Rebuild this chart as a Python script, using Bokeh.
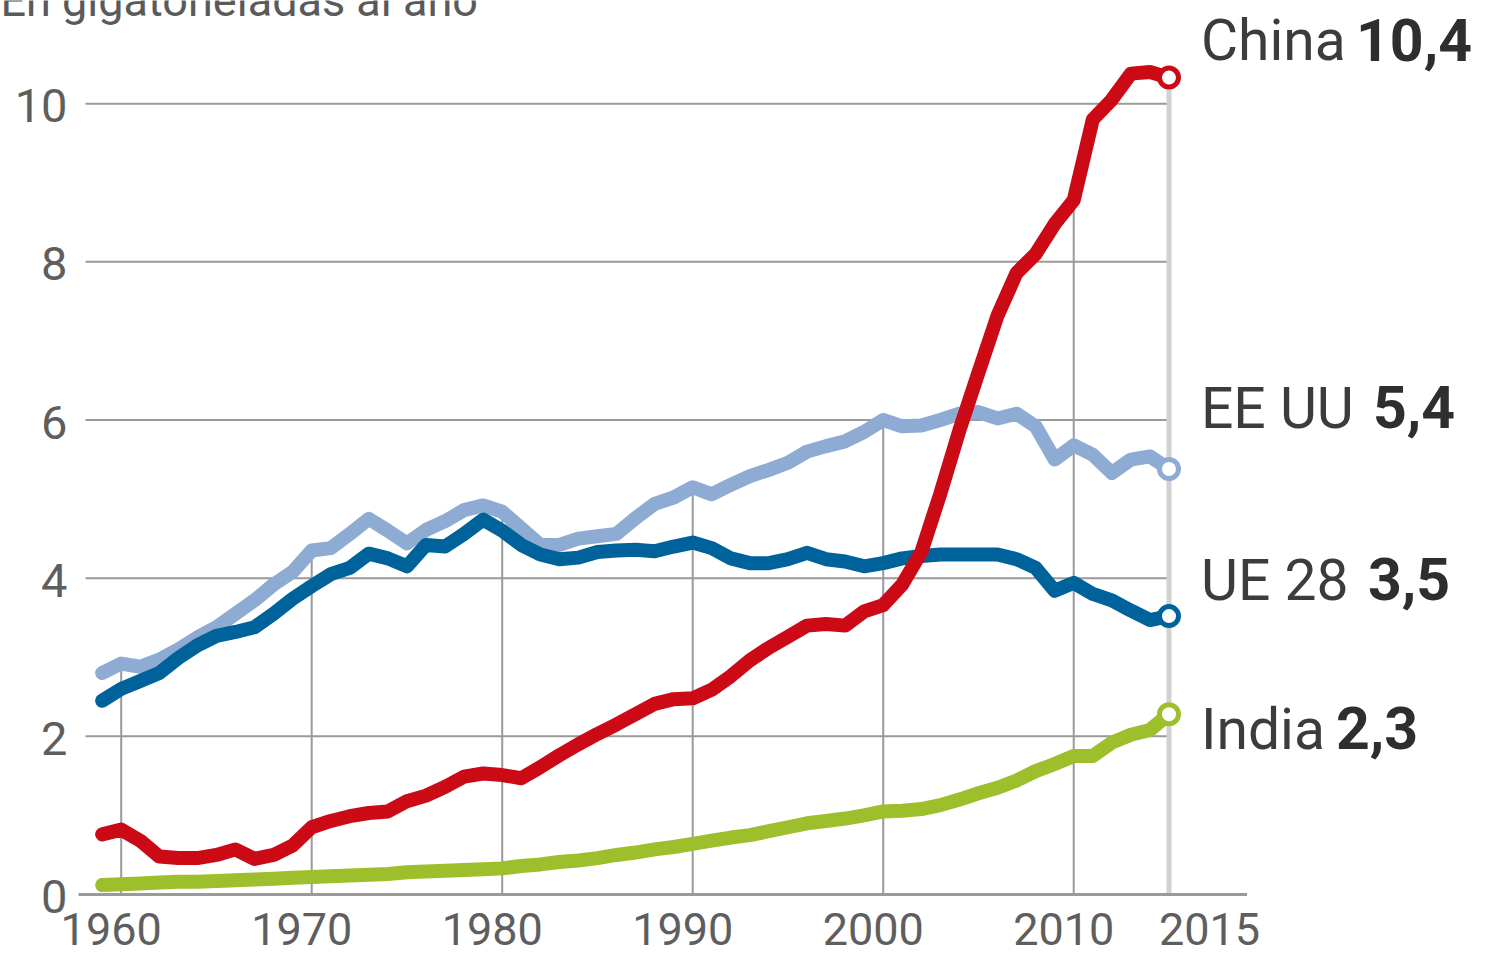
from bokeh.plotting import figure
from bokeh.models import ColumnDataSource
from bokeh.core.properties import value
from bokeh.embed import file_html
from bokeh.resources import INLINE

# ---------------- data ----------------
years = list(range(1959, 2016))

usa = [2.80, 2.92, 2.88, 2.97, 3.10, 3.25, 3.38, 3.55, 3.72, 3.92,
       4.08, 4.35, 4.38, 4.56, 4.75, 4.60, 4.44, 4.61, 4.72, 4.86,
       4.92, 4.84, 4.63, 4.42, 4.42, 4.50, 4.53, 4.56, 4.76, 4.94,
       5.02, 5.15, 5.06, 5.18, 5.29, 5.37, 5.46, 5.60, 5.67, 5.73,
       5.85, 6.00, 5.92, 5.93, 6.00, 6.08, 6.10, 6.02, 6.08, 5.92,
       5.50, 5.68, 5.56, 5.33, 5.50, 5.54, 5.38]

eu = [2.45, 2.60, 2.70, 2.80, 2.99, 3.15, 3.27, 3.32, 3.38, 3.55,
      3.74, 3.90, 4.05, 4.13, 4.31, 4.25, 4.15, 4.42, 4.40, 4.56,
      4.74, 4.60, 4.42, 4.30, 4.24, 4.26, 4.33, 4.35, 4.36, 4.34,
      4.40, 4.45, 4.38, 4.25, 4.19, 4.19, 4.24, 4.32, 4.24, 4.21,
      4.15, 4.19, 4.25, 4.28, 4.30, 4.30, 4.30, 4.30, 4.24, 4.13,
      3.84, 3.94, 3.80, 3.72, 3.59, 3.47, 3.52]

china = [0.76, 0.82, 0.68, 0.48, 0.46, 0.46, 0.50, 0.57, 0.45, 0.50,
         0.62, 0.85, 0.93, 0.99, 1.03, 1.05, 1.18, 1.25, 1.36, 1.49,
         1.53, 1.51, 1.47, 1.61, 1.76, 1.90, 2.03, 2.15, 2.28, 2.41,
         2.47, 2.48, 2.59, 2.76, 2.96, 3.12, 3.26, 3.40, 3.42, 3.40,
         3.58, 3.66, 3.92, 4.33, 5.07, 5.87, 6.60, 7.32, 7.86, 8.10,
         8.48, 8.78, 9.80, 10.05, 10.38, 10.40, 10.33]

india = [0.12, 0.13, 0.14, 0.15, 0.16, 0.16, 0.17, 0.18, 0.19, 0.20,
         0.21, 0.22, 0.23, 0.24, 0.25, 0.26, 0.28, 0.29, 0.30, 0.31,
         0.32, 0.33, 0.36, 0.38, 0.41, 0.43, 0.46, 0.50, 0.53, 0.57,
         0.60, 0.64, 0.68, 0.72, 0.75, 0.80, 0.85, 0.90, 0.93, 0.96,
         1.00, 1.05, 1.06, 1.08, 1.13, 1.20, 1.28, 1.35, 1.44, 1.56,
         1.65, 1.75, 1.75, 1.92, 2.02, 2.08, 2.28]

series_names = ["China", "EE UU", "UE 28", "India"]
series_value_labels = ["10,4", "5,4", "3,5", "2,3"]

y_ticks = [0, 2, 4, 6, 8, 10]
y_tick_labels = ["0", "2", "4", "6", "8", "10"]
x_ticks = [1960, 1970, 1980, 1990, 2000, 2010]
x_tick_labels = ["1960", "1970", "1980", "1990", "2000", "2010"]
x_last_tick = 2015
x_last_tick_label = "2015"
title_text = "En gigatoneladas al año"

# ---------------- style ----------------
RED = "#cc0a16"
LIGHT = "#8eabd4"
DARK = "#00629a"
GREEN = "#9cbf2b"
GRID = "#9a9a9a"
TICK_TXT = "#5e5e5e"
FONT = value("Roboto")

W, H = 1483, 957
x_start, x_end = 1953.664, 2031.51
y_start, y_end = -0.797, 11.305

p = figure(width=W, height=H, output_backend="svg", toolbar_location=None,
           x_range=(x_start, x_end), y_range=(y_start, y_end),
           x_axis_location=None, y_axis_location=None,
           min_border_left=0, min_border_right=0,
           min_border_top=0, min_border_bottom=0)
p.outline_line_color = None
p.grid.visible = False
p.background_fill_color = "white"
p.border_fill_color = "white"

# horizontal grid lines (2..10)
hx0 = 1958.13
hy = y_ticks[1:]
p.segment(x0=[hx0] * len(hy), y0=hy, x1=[x_last_tick] * len(hy), y1=hy,
          line_color=GRID, line_width=2)

# vertical grid lines, each up to the top series value of that year
all_series = [china, usa, eu, india]
def top_at(yr):
    i = years.index(yr)
    return max(s[i] for s in all_series)

vx = x_ticks
p.segment(x0=vx, y0=[0] * len(vx), x1=vx, y1=[top_at(v) for v in vx],
          line_color=GRID, line_width=2)
p.segment(x0=[x_last_tick], y0=[0], x1=[x_last_tick], y1=[top_at(x_last_tick)],
          line_color="#d2d2d2", line_width=5)

# baseline (x axis line)
p.segment(x0=[1957.76], y0=[0], x1=[2019.1], y1=[0], line_color=GRID, line_width=3)

# series lines
src = ColumnDataSource(dict(year=years, usa=usa, eu=eu, china=china, india=india))
for col, colr in [("usa", LIGHT), ("eu", DARK), ("china", RED), ("india", GREEN)]:
    p.line("year", col, source=src, line_color=colr, line_width=14,
           line_cap="round", line_join="round")

# end markers
last_vals = [china[-1], usa[-1], eu[-1], india[-1]]
colors = [RED, LIGHT, DARK, GREEN]
p.scatter(x=[years[-1]] * 4, y=last_vals, size=19, fill_color="white",
          line_color=colors, line_width=5)

# right labels
lab = ColumnDataSource(dict(
    x=[years[-1]] * 4, y=last_vals, name=series_names, val=series_value_labels,
    dyn=[-37, -61, -36, 15], dyv=[-38, -62, -37, 14], dxv=[187, 204, 199, 167]))
p.text(x="x", y="y", text="name", source=lab, x_offset=32, y_offset="dyn",
       text_font=FONT, text_font_size="57px", text_color="#3c3c3c",
       text_baseline="alphabetic", text_align="left")
p.text(x="x", y="y", text="val", source=lab, x_offset="dxv", y_offset="dyv",
       text_font=FONT, text_font_size="59px", text_font_style="bold",
       text_color="#2e2e2e", text_baseline="alphabetic", text_align="left")

# y tick labels
p.text(x=[x_start] * len(y_ticks), y=y_ticks, text=y_tick_labels,
       x_offset=67, y_offset=2, text_font=FONT, text_font_size="47px",
       text_color=TICK_TXT, text_align="right", text_baseline="alphabetic")

# x tick labels
p.text(x=x_ticks, y=[y_start] * len(x_ticks), text=x_tick_labels,
       x_offset=-10, y_offset=-29, text_font=FONT, text_font_size="45px",
       text_color=TICK_TXT, text_align="center", text_baseline="alphabetic")
p.text(x=[x_last_tick], y=[y_start], text=[x_last_tick_label],
       x_offset=-10, y_offset=-29, text_font=FONT, text_font_size="45px",
       text_color=TICK_TXT, text_align="left", text_baseline="alphabetic")

# title, cropped at the top edge as in the reference
p.text(x=[x_start], y=[y_end], text=[title_text], x_offset=0, y_offset=0,
       text_font=FONT, text_font_size="45px", text_color="#5a5a5a",
       text_align="left", text_baseline="alphabetic")

open("out.html", "w").write(file_html(p, INLINE))
